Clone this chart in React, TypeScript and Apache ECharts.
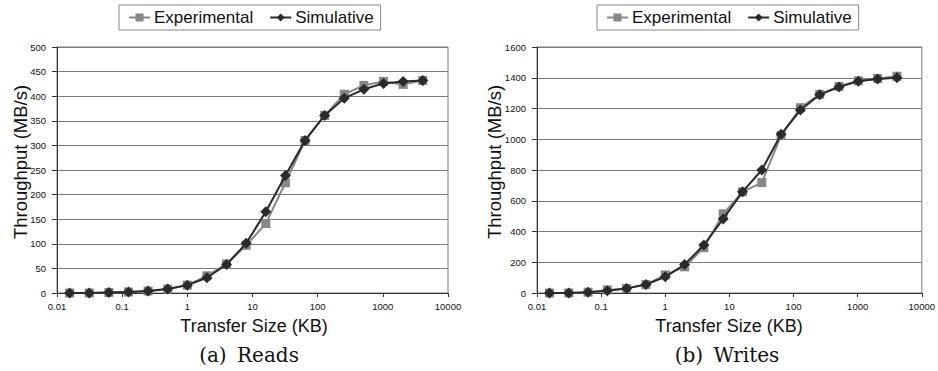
import React, { useEffect, useRef } from 'react';
import * as echarts from 'echarts';

// Transfer sizes in KB (powers of two)
const transferSizes = [0.015625, 0.03125, 0.0625, 0.125, 0.25, 0.5, 1, 2, 4, 8, 16, 32, 64, 128, 256, 512, 1024, 2048, 4096];

// (a) Reads, MB/s
const readsExperimental = [0, 0, 1, 2, 4, 8, 16, 35, 59, 97, 141, 224, 310, 361, 404, 422, 430, 424, 432];
const readsSimulative = [0, 0, 1, 2, 4, 8, 16, 31, 58, 101, 165, 239, 310, 361, 396, 414, 426, 430, 432];

// (b) Writes, MB/s
const writesExperimental = [0, 0, 5, 20, 30, 55, 118, 170, 295, 515, 658, 718, 1025, 1205, 1292, 1343, 1380, 1395, 1410];
const writesSimulative = [0, 0, 5, 15, 30, 55, 105, 185, 312, 482, 658, 800, 1032, 1190, 1290, 1340, 1378, 1392, 1400];

const xTickLabels = ['0.01', '0.1', '1', '10', '100', '1000', '10000'];
const seriesNames = ['Experimental', 'Simulative'];
const subCaptions = ['(a)\u00a0\u2009Reads', '(b)\u00a0\u2009Writes'];
const yAxisTitle = 'Throughput (MB/s)';
const xAxisTitle = 'Transfer Size (KB)';

const SANS = '"Liberation Sans", Arial, sans-serif';
const SERIF = '"DejaVu Serif", "Liberation Serif", serif';

const pairs = (ys: number[]) => transferSizes.map((x, i) => [x, ys[i]]);

export default function App() {
  const ref = useRef<HTMLDivElement>(null);

  useEffect(() => {
    document.body.style.margin = '0';
    if (!ref.current) return;
    const chart = echarts.init(ref.current, null, { renderer: 'svg' });

    const xAxisBase = (gridIndex: number) => ({
      type: 'log' as const,
      logBase: 10,
      gridIndex,
      min: 0.01,
      max: 10000,
      axisLine: { show: true, onZero: false, lineStyle: { color: '#333', width: 1 } },
      axisTick: { show: true, length: 4, inside: false, lineStyle: { color: '#333' } },
      minorTick: { show: false },
      splitLine: { show: false },
      axisLabel: {
        fontSize: 9.5,
        fontFamily: SANS,
        color: '#111',
        margin: 8,
        formatter: (v: number) => xTickLabels[Math.round(Math.log10(v)) + 2] ?? '',
      },
    });

    const yAxisBase = (gridIndex: number, max: number, interval: number) => ({
      type: 'value' as const,
      gridIndex,
      min: 0,
      max,
      interval,
      axisLine: { show: true, lineStyle: { color: '#333', width: 1 } },
      axisTick: { show: true, length: 5, lineStyle: { color: '#333' } },
      splitLine: { show: true, lineStyle: { color: '#7a7a7a', width: 1 } },
      axisLabel: {
        fontSize: 9.5,
        fontFamily: SANS,
        color: '#111',
        margin: 11,
        formatter: (v: number) => String(v),
      },
    });

    const expStyle = (xi: number, data: number[]) => ({
      name: seriesNames[0],
      type: 'line' as const,
      xAxisIndex: xi,
      yAxisIndex: xi,
      data: pairs(data),
      symbol: 'rect',
      symbolSize: 9,
      z: 2,
      lineStyle: { color: '#878787', width: 2 },
      itemStyle: { color: '#878787' },
    });
    const simStyle = (xi: number, data: number[]) => ({
      name: seriesNames[1],
      type: 'line' as const,
      xAxisIndex: xi,
      yAxisIndex: xi,
      data: pairs(data),
      symbol: 'diamond',
      symbolSize: 11,
      z: 3,
      lineStyle: { color: '#2a2a2a', width: 2 },
      itemStyle: { color: '#2a2a2a' },
    });

    const legendBase = (left: number) => ({
      left,
      top: 5,
      orient: 'horizontal' as const,
      data: seriesNames,
      itemWidth: 21,
      itemHeight: 10,
      itemGap: 16,
      padding: [4, 7, 4, 9],
      borderColor: '#888',
      borderWidth: 1,
      textStyle: { fontSize: 17, fontFamily: SANS, color: '#111', padding: [0, 0, 0, -1] },
    });

    const textEl = (text: string, x: number, y: number, size: number, font: string, rotation = 0) => ({
      type: 'text' as const,
      x,
      y,
      rotation,
      style: {
        text,
        fontSize: size,
        fontFamily: font,
        fill: '#111',
        align: 'center',
        verticalAlign: 'middle',
      },
    });

    chart.setOption({
      animation: false,
      backgroundColor: '#fff',
      legend: [legendBase(119), legendBase(597)],
      grid: [
        { left: 57, right: 490, top: 47, bottom: 78, show: true, borderColor: '#7a7a7a', borderWidth: 1, backgroundColor: 'transparent' },
        { left: 537, right: 13, top: 47, bottom: 78, show: true, borderColor: '#7a7a7a', borderWidth: 1, backgroundColor: 'transparent' },
      ],
      xAxis: [xAxisBase(0), xAxisBase(1)],
      yAxis: [yAxisBase(0, 500, 50), yAxisBase(1, 1600, 200)],
      series: [
        expStyle(0, readsExperimental),
        simStyle(0, readsSimulative),
        expStyle(1, writesExperimental),
        simStyle(1, writesSimulative),
      ],
      graphic: [
        textEl(yAxisTitle, 20, 162, 18.5, SANS, Math.PI / 2),
        textEl(yAxisTitle, 494, 162, 18.5, SANS, Math.PI / 2),
        textEl(xAxisTitle, 254, 326, 18, SANS),
        textEl(xAxisTitle, 729, 326, 18, SANS),
        textEl(subCaptions[0], 249, 355, 20, SERIF),
        textEl(subCaptions[1], 727, 355, 20, SERIF),
      ],
    });

    return () => chart.dispose();
  }, []);

  return <div ref={ref} style={{ width: 938, height: 371, position: 'absolute', left: 0, top: 0 }} />;
}
